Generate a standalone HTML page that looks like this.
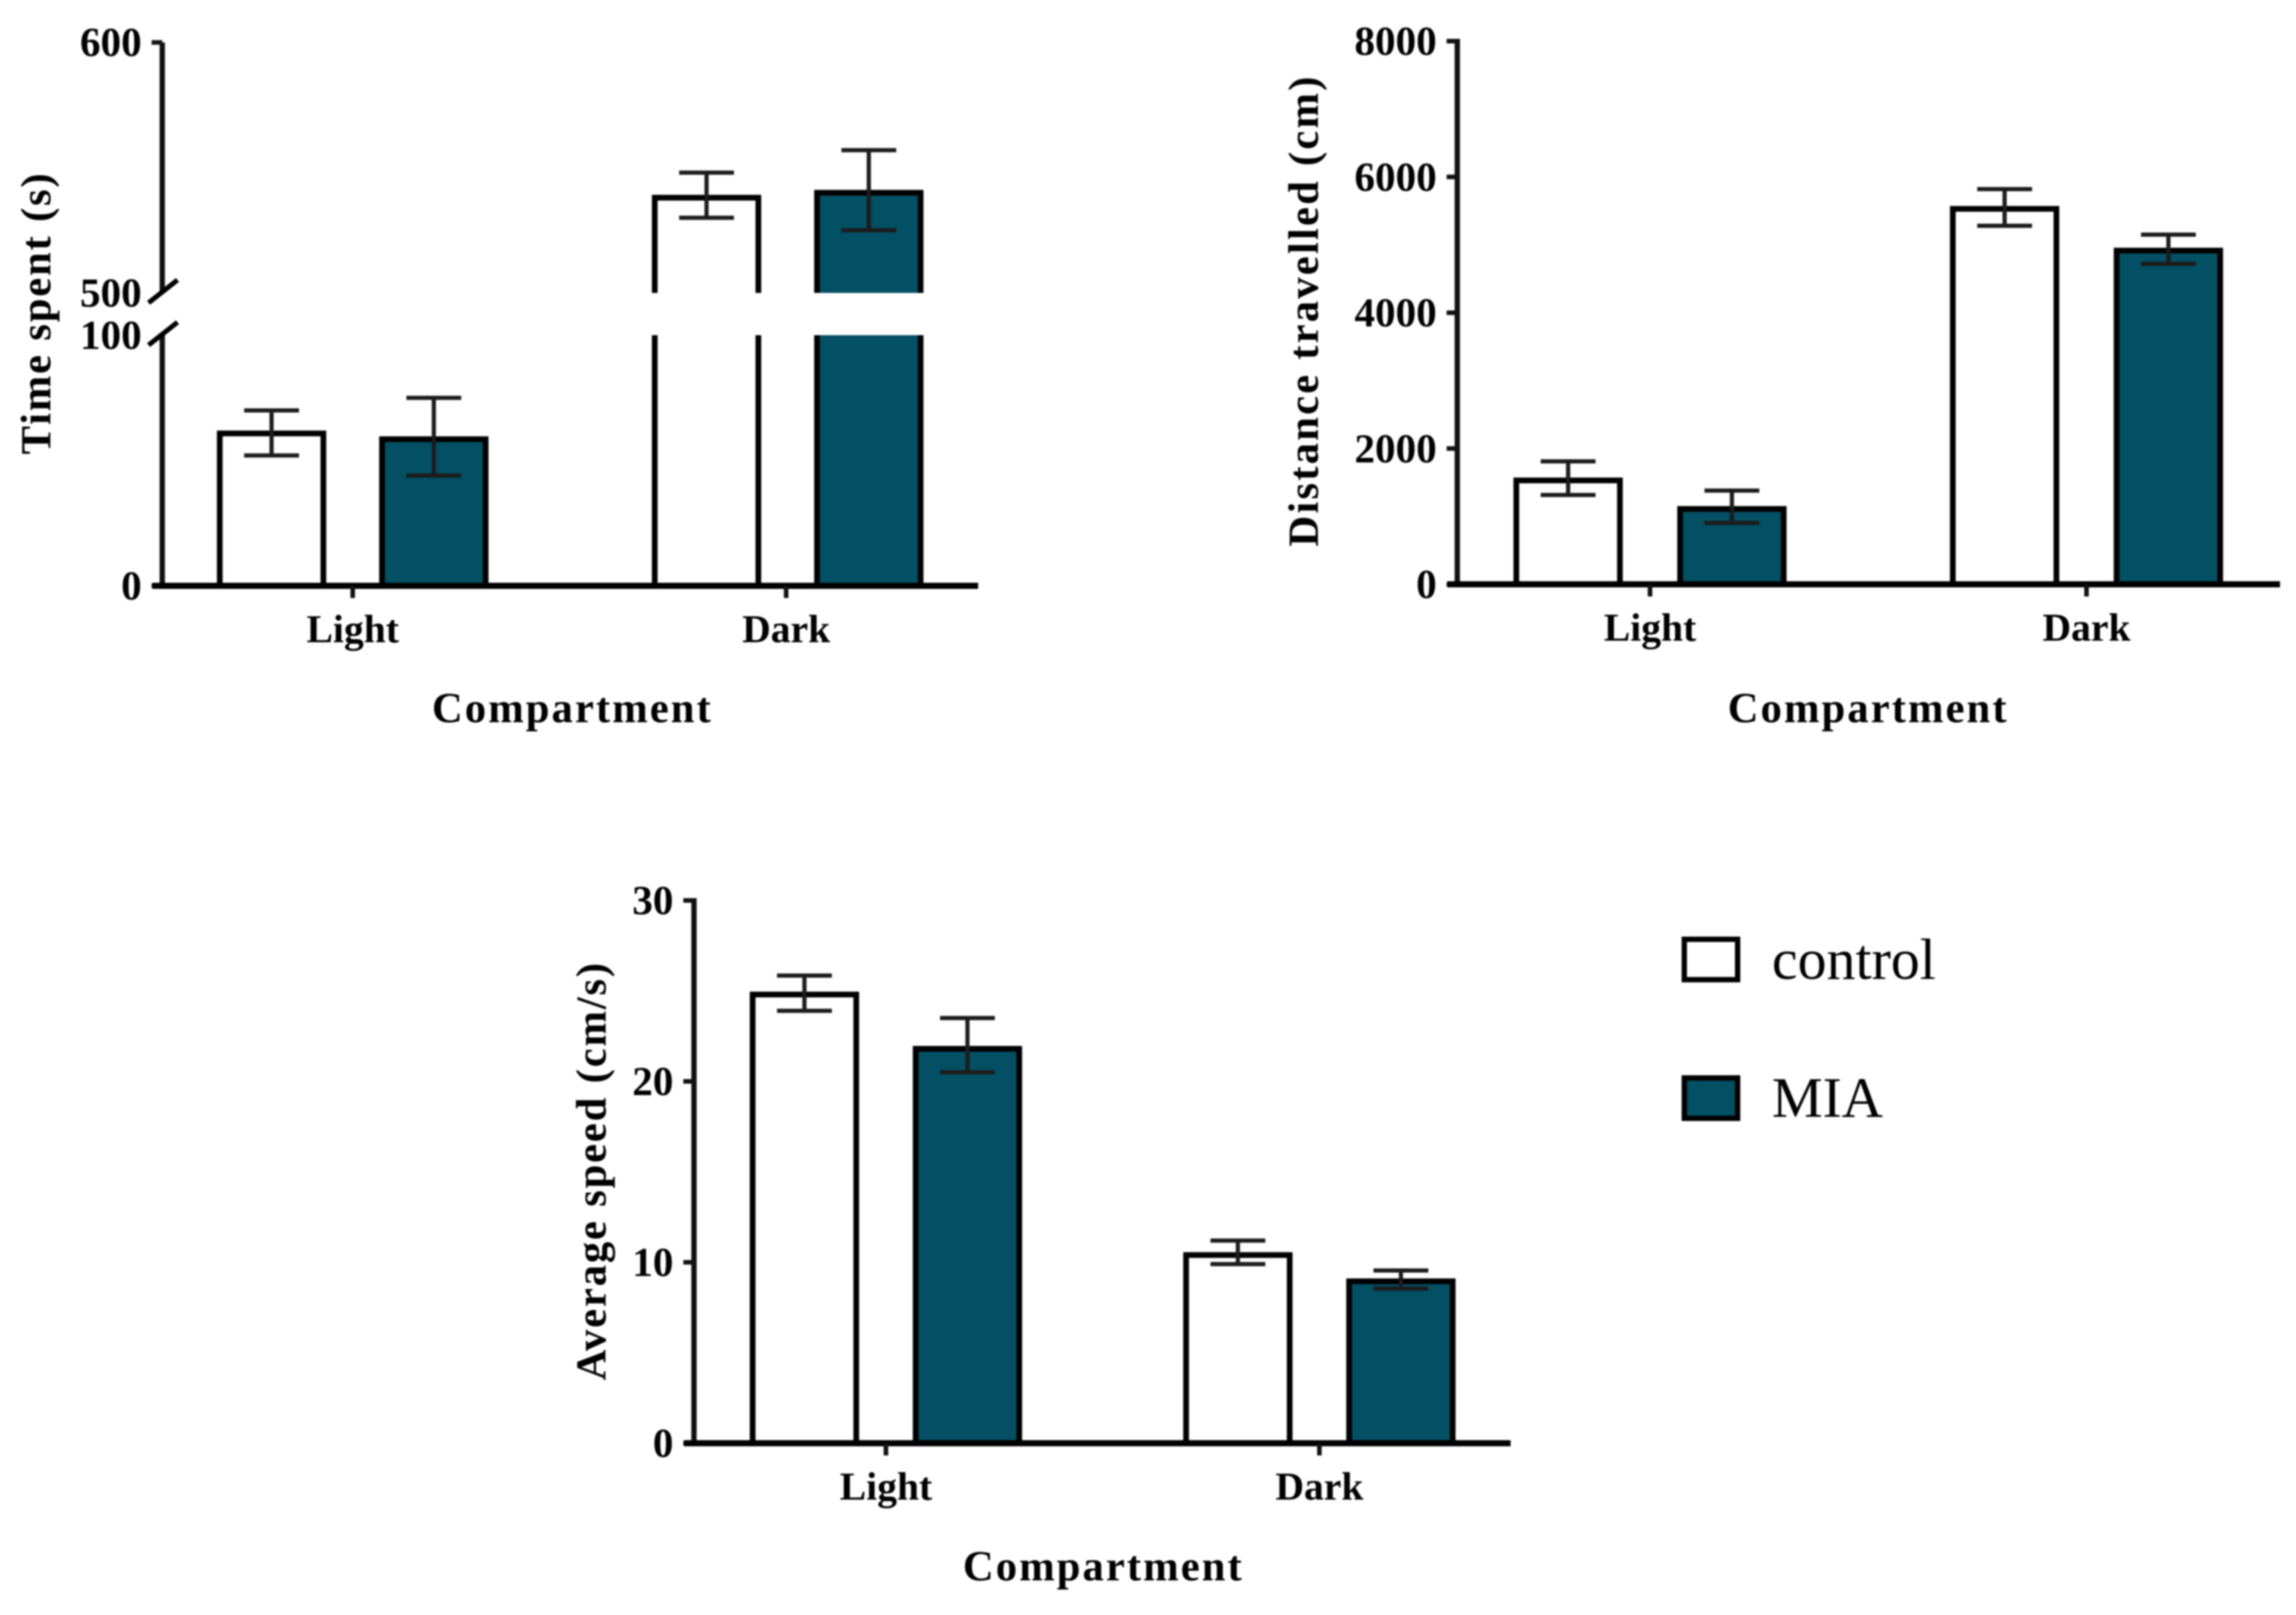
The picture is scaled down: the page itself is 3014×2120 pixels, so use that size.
<!DOCTYPE html>
<html lang="en">
<head>
<meta charset="utf-8">
<title>Light/dark compartment bar charts</title>
<style>
html,body{margin:0;padding:0;background:#fff;}
#figure{display:block;width:3014px;height:2120px;filter:blur(1px);}
text{font-family:"Liberation Serif",serif;fill:#000;}
.bold{font-weight:bold;}
</style>
</head>
<body>
<svg id="figure" xmlns="http://www.w3.org/2000/svg" width="3014" height="2120" viewBox="0 0 3014 2120">
  <g>
    <g>
      <rect x="2211" y="1233" width="70" height="53" fill="#fff" stroke="#000" stroke-width="7"/>
      <text x="2326" y="1285" font-size="76">control</text>
    </g>
    <g>
      <rect x="2211" y="1415" width="70" height="53" fill="#034f63" stroke="#000" stroke-width="7"/>
      <text x="2326" y="1466" font-size="75">MIA</text>
    </g>
  </g>
</svg>
<script>
// ---- Shared chart data ----
const categories = ['Light', 'Dark'];
const seriesNames = ['control', 'MIA'];
const xAxisTitle = 'Compartment';

// Time spent (s)
const timeControl = [60.8, 538];
const timeMia = [58.5, 540];
const timeControlHigh = [70, 548];
const timeControlLow = [52, 530];
const timeMiaHigh = [75, 557];
const timeMiaLow = [44, 525];
const timeTicks = [0, 100, 500, 600];

// Distance travelled (cm)
const distanceControl = [1530, 5530];
const distanceMia = [1110, 4915];
const distanceControlHigh = [1810, 5820];
const distanceControlLow = [1315, 5280];
const distanceMiaHigh = [1380, 5150];
const distanceMiaLow = [905, 4720];
const distanceTicks = [0, 2000, 4000, 6000, 8000];

// Average speed (cm/s)
const speedControl = [24.8, 10.4];
const speedMia = [21.8, 8.95];
const speedControlHigh = [25.85, 11.2];
const speedControlLow = [23.9, 9.9];
const speedMiaHigh = [23.5, 9.55];
const speedMiaLow = [20.5, 8.55];
const speedTicks = [0, 10, 20, 30];

const SVG_NS = 'http://www.w3.org/2000/svg';
const root = document.getElementById('figure');
const FILLS = ['#ffffff', '#034f63'];

function el(tag, attrs, parent) {
  const n = document.createElementNS(SVG_NS, tag);
  for (const k in attrs) n.setAttribute(k, attrs[k]);
  parent.appendChild(n);
  return n;
}

function linearY(y0, y1, v0, v1) {
  return v => y0 + (v - v0) * (y1 - y0) / (v1 - v0);
}

function drawPanel(p) {
  const g = el('g', {}, root);
  
  

  const catX = i => p.firstCat + i * p.catStep;
  const barX = (i, s) => catX(i) + (s === 0 ? -1 : 1) * p.barOffset + p.catNudge * i;

  // bars
  [p.control, p.mia].forEach((vals, s) => {
    vals.forEach((v, i) => {
      const cx = barX(i, s);
      const left = cx - p.barWidth / 2;
      const right = cx + p.barWidth / 2;
      const top = p.y(v);
      const bar = el('g', {}, g);
      
      
      const broken = p.breakLow !== undefined && v > p.breakHigh;
      if (broken) {
        const yLow = p.y(p.breakLow);
        const yHigh = p.y(p.breakHigh);
        el('rect', {x: left, y: top, width: p.barWidth, height: yHigh - top, fill: FILLS[s]}, bar);
        el('rect', {x: left, y: yLow, width: p.barWidth, height: p.y(0) - yLow, fill: FILLS[s]}, bar);
        el('path', {d: `M${left} ${yHigh}V${top}H${right}V${yHigh}`, fill: 'none', stroke: '#000', 'stroke-width': 7.5}, bar);
        el('path', {d: `M${left} ${p.y(0)}V${yLow}M${right} ${p.y(0)}V${yLow}`, fill: 'none', stroke: '#000', 'stroke-width': 7.5}, bar);
      } else {
        el('rect', {x: left, y: top, width: p.barWidth, height: p.y(0) - top, fill: FILLS[s], stroke: '#000', 'stroke-width': 7.5}, bar);
      }
    });
  });

  // error bars
  [[p.controlHigh, p.controlLow], [p.miaHigh, p.miaLow]].forEach((pair, s) => {
    pair[0].forEach((hi, i) => {
      const cx = barX(i, s);
      const lo = pair[1][i];
      const err = el('path', {
        d: `M${cx - 36} ${p.y(hi)}H${cx + 36}M${cx} ${p.y(hi)}V${p.y(lo)}M${cx - 36} ${p.y(lo)}H${cx + 36}`,
        fill: 'none', stroke: '#1c1c1c', 'stroke-width': 5.5
      }, g);
      
      
    });
  });

  // y axis
  const yAxis = el('g', {}, g);
  
  
  const maxTick = p.ticks[p.ticks.length - 1];
  if (p.breakLow !== undefined) {
    el('path', {d: `M${p.axisX} ${p.y(0)}V${p.y(p.breakLow)}M${p.axisX} ${p.y(p.breakHigh)}V${p.y(maxTick)}`, fill: 'none', stroke: '#111', 'stroke-width': 7}, yAxis);
    [p.breakLow, p.breakHigh].forEach(v => {
      const by = p.y(v);
      el('line', {x1: p.axisX - 18, y1: by + 13, x2: p.axisX + 20, y2: by - 17, stroke: '#000', 'stroke-width': 6.5}, yAxis);
    });
  } else {
    el('line', {x1: p.axisX, y1: p.y(0), x2: p.axisX, y2: p.y(maxTick) - 3, stroke: '#111', 'stroke-width': 7}, yAxis);
  }
  p.ticks.forEach(t => {
    const ty = p.y(t);
    const isBreak = t === p.breakLow || t === p.breakHigh;
    if (!isBreak) {
      const tick = el('line', {x1: p.axisX - 14, y1: ty, x2: p.axisX, y2: ty, stroke: '#111', 'stroke-width': 6}, yAxis);
      
      
    }
    const label = el('text', {x: p.axisX - 27, y: ty + 18, 'font-size': 54, 'text-anchor': 'end', class: 'bold'}, yAxis);
    label.textContent = t;
    
    
  });

  // x axis
  const xAxis = el('g', {}, g);
  
  
  el('line', {x1: p.axisX - 13, y1: p.y(0), x2: p.axisEnd, y2: p.y(0), stroke: '#000', 'stroke-width': 8}, xAxis);
  categories.forEach((c, i) => {
    const tick = el('line', {x1: catX(i), y1: p.y(0), x2: catX(i), y2: p.y(0) + 16, stroke: '#111', 'stroke-width': 6}, xAxis);
    
    
    const label = el('text', {x: catX(i), y: p.y(0) + 74, 'font-size': 52, 'text-anchor': 'middle', class: 'bold'}, xAxis);
    label.textContent = c;
    
    
  });
  const xt = el('text', {x: p.xTitleX, y: p.y(0) + p.xTitleDy, 'font-size': 56, 'text-anchor': 'middle', class: 'bold', textLength: 366, lengthAdjust: 'spacing'}, g);
  xt.textContent = xAxisTitle;
  
  

  const yt = el('text', {x: 0, y: 0, 'font-size': 56, 'text-anchor': 'middle', class: 'bold', textLength: p.yTitleLen, lengthAdjust: 'spacing', transform: `translate(${p.yTitleX} ${p.yTitleY}) rotate(-90)`}, g);
  yt.textContent = p.yTitle;
  
  
}

// Broken axis: two linear pieces
const timeLower = linearY(769, 440, 0, 100);
const timeUpper = linearY(384.5, 55.7, 500, 600);
const timeY = v => v <= 100 ? timeLower(v) : timeUpper(v);

drawPanel({
  name: 'time-spent-chart', y: timeY, ticks: timeTicks, breakLow: 100, breakHigh: 500,
  control: timeControl, mia: timeMia,
  controlHigh: timeControlHigh, controlLow: timeControlLow, miaHigh: timeMiaHigh, miaLow: timeMiaLow,
  axisX: 213, axisEnd: 1284, firstCat: 463, catStep: 569, catNudge: 2, barOffset: 106.5, barWidth: 136,
  xTitleX: 750, xTitleDy: 179, yTitle: 'Time spent (s)', yTitleX: 66, yTitleY: 412, yTitleLen: 369
});

drawPanel({
  name: 'distance-travelled-chart', y: linearY(767, 54, 0, 8000), ticks: distanceTicks,
  control: distanceControl, mia: distanceMia,
  controlHigh: distanceControlHigh, controlLow: distanceControlLow, miaHigh: distanceMiaHigh, miaLow: distanceMiaLow,
  axisX: 1913, axisEnd: 2993, firstCat: 2166, catStep: 573, catNudge: 0, barOffset: 107.5, barWidth: 136,
  xTitleX: 2451, xTitleDy: 181, yTitle: 'Distance travelled (cm)', yTitleX: 1730, yTitleY: 409, yTitleLen: 617
});

drawPanel({
  name: 'average-speed-chart', y: linearY(1894.5, 1182, 0, 30), ticks: speedTicks,
  control: speedControl, mia: speedMia,
  controlHigh: speedControlHigh, controlLow: speedControlLow, miaHigh: speedMiaHigh, miaLow: speedMiaLow,
  axisX: 911, axisEnd: 1983, firstCat: 1163, catStep: 569, catNudge: 0, barOffset: 107, barWidth: 136,
  xTitleX: 1447, xTitleDy: 180, yTitle: 'Average speed (cm/s)', yTitleX: 795, yTitleY: 1538, yTitleLen: 548
});
</script>
</body>
</html>
